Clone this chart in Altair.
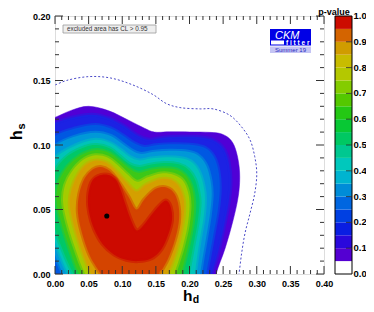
import altair as alt
import pandas as pd

FONT = "Liberation Sans"

# ---- contour levels of the p-value (h_d, h_s) ----
levels = [0.05, 0.1, 0.2, 0.3, 0.4, 0.5, 0.6, 0.7, 0.8, 0.9, 0.95]
band_colors = ["#5000d6", "#1c22e4", "#0058e2", "#0098d8", "#00c4b8", "#00c868",
               "#3cc818", "#a4cc00", "#d4a000", "#d44400", "#cc0a00"]

hd_005 = [-0.02, -0.02, 0.0, 0.025, 0.05, 0.08, 0.11, 0.133, 0.148, 0.17, 0.2, 0.23, 0.248, 0.262, 0.270, 0.2745, 0.273, 0.265, 0.253, 0.2395, 0.232]
hs_005 = [-0.02, 0.118, 0.1214, 0.127, 0.130, 0.1265, 0.119, 0.113, 0.110, 0.1102, 0.1101, 0.1098, 0.1085, 0.1035, 0.094, 0.079, 0.062, 0.042, 0.020, 0.0, -0.02]

hd_01 = [-0.02, -0.02, 0.0, 0.025, 0.055, 0.08, 0.103, 0.122, 0.140, 0.158, 0.185, 0.215, 0.236, 0.250, 0.258, 0.261, 0.258, 0.250, 0.241, 0.233, 0.227]
hs_01 = [-0.02, 0.112, 0.117, 0.1212, 0.1235, 0.1207, 0.1145, 0.1075, 0.104, 0.1055, 0.1063, 0.1060, 0.1035, 0.0975, 0.087, 0.072, 0.055, 0.034, 0.014, 0.0, -0.02]

hd_02 = [0.015, -0.01, -0.02, -0.02, 0.0, 0.03, 0.06, 0.083, 0.102, 0.118, 0.133, 0.15, 0.175, 0.205, 0.224, 0.236, 0.243, 0.245, 0.242, 0.235, 0.229, 0.225, 0.221]
hs_02 = [-0.01, 0.015, 0.04, 0.095, 0.107, 0.1128, 0.1155, 0.1128, 0.107, 0.1013, 0.0985, 0.0998, 0.1005, 0.1, 0.0975, 0.091, 0.08, 0.066, 0.049, 0.029, 0.012, 0.0, -0.02]

hd_03 = [0.03, 0.012, 0.0, -0.015, -0.02, -0.015, 0.0, 0.03, 0.06, 0.083, 0.1, 0.115, 0.128, 0.145, 0.17, 0.198, 0.214, 0.225, 0.231, 0.233, 0.23, 0.224, 0.219, 0.216, 0.212]
hs_03 = [-0.02, 0.0, 0.015, 0.035, 0.06, 0.085, 0.099, 0.1065, 0.1095, 0.107, 0.101, 0.0955, 0.093, 0.0945, 0.0955, 0.0948, 0.0915, 0.084, 0.073, 0.061, 0.045, 0.026, 0.011, 0.0, -0.02]

hd_04 = [0.045, 0.020, 0.0, -0.012, -0.013, -0.008, 0.0, 0.03, 0.06, 0.082, 0.098, 0.112, 0.126, 0.142, 0.165, 0.19, 0.205, 0.215, 0.221, 0.223, 0.221, 0.215, 0.211, 0.208, 0.204]
hs_04 = [-0.02, 0.0, 0.025, 0.045, 0.065, 0.08, 0.090, 0.0995, 0.104, 0.1015, 0.096, 0.0905, 0.088, 0.0895, 0.0905, 0.0895, 0.086, 0.0785, 0.068, 0.058, 0.044, 0.026, 0.012, 0.0, -0.02]

hd_05 = [0.055, 0.028, 0.012, 0.0, -0.006, -0.006, 0.0, 0.02, 0.045, 0.062, 0.081, 0.096, 0.11, 0.125, 0.14, 0.162, 0.184, 0.198, 0.208, 0.213, 0.215, 0.212, 0.206, 0.201, 0.198, 0.194]
hs_05 = [-0.02, 0.0, 0.018, 0.035, 0.05, 0.065, 0.080, 0.092, 0.0985, 0.100, 0.0975, 0.0915, 0.0855, 0.083, 0.0845, 0.086, 0.085, 0.081, 0.0735, 0.064, 0.055, 0.040, 0.023, 0.009, 0.0, -0.02]

hd_06 = [0.062, 0.036, 0.020, 0.008, 0.002, 0.006, 0.018, 0.038, 0.06, 0.08, 0.096, 0.11, 0.124, 0.14, 0.16, 0.18, 0.194, 0.203, 0.207, 0.205, 0.199, 0.193, 0.188, 0.184]
hs_06 = [-0.02, 0.0, 0.022, 0.042, 0.058, 0.072, 0.083, 0.092, 0.096, 0.094, 0.088, 0.082, 0.0785, 0.0805, 0.082, 0.081, 0.0765, 0.068, 0.056, 0.040, 0.024, 0.011, 0.0, -0.02]

hd_07 = [0.07, 0.045, 0.030, 0.018, 0.012, 0.015, 0.026, 0.042, 0.06, 0.078, 0.093, 0.107, 0.122, 0.138, 0.158, 0.176, 0.19, 0.198, 0.200, 0.197, 0.190, 0.183, 0.178, 0.174]
hs_07 = [-0.02, 0.0, 0.02, 0.04, 0.056, 0.069, 0.080, 0.0885, 0.092, 0.0903, 0.0845, 0.0775, 0.0715, 0.075, 0.078, 0.077, 0.0725, 0.063, 0.052, 0.037, 0.021, 0.009, 0.0, -0.02]

hd_08 = [0.078, 0.054, 0.040, 0.028, 0.022, 0.025, 0.034, 0.047, 0.062, 0.077, 0.091, 0.106, 0.121, 0.135, 0.156, 0.172, 0.184, 0.191, 0.192, 0.188, 0.181, 0.173, 0.168, 0.163]
hs_08 = [-0.02, 0.0, 0.018, 0.038, 0.054, 0.066, 0.077, 0.085, 0.088, 0.086, 0.0795, 0.071, 0.064, 0.069, 0.0735, 0.073, 0.068, 0.059, 0.049, 0.034, 0.019, 0.007, 0.0, -0.02]

hd_09 = [0.09, 0.068, 0.052, 0.040, 0.034, 0.036, 0.044, 0.056, 0.068, 0.081, 0.094, 0.109, 0.121, 0.133, 0.150, 0.166, 0.178, 0.184, 0.184, 0.178, 0.169, 0.160, 0.155, 0.15]
hs_09 = [-0.02, 0.0, 0.014, 0.032, 0.048, 0.062, 0.074, 0.081, 0.083, 0.080, 0.072, 0.060, 0.050, 0.058, 0.066, 0.067, 0.062, 0.052, 0.040, 0.026, 0.013, 0.004, 0.0, -0.02]

hd_095 = [0.124, 0.143, 0.158, 0.168, 0.174, 0.172, 0.165, 0.155, 0.143, 0.131, 0.121, 0.112, 0.104, 0.097, 0.090, 0.078, 0.064, 0.054, 0.049, 0.051, 0.058, 0.071, 0.088, 0.106]
hs_095 = [0.010, 0.012, 0.019, 0.030, 0.042, 0.052, 0.057, 0.053, 0.0455, 0.0375, 0.034, 0.043, 0.055, 0.066, 0.0735, 0.077, 0.076, 0.071, 0.059, 0.047, 0.035, 0.023, 0.015, 0.011]

contour_hd = [hd_005, hd_01, hd_02, hd_03, hd_04, hd_05, hd_06, hd_07, hd_08, hd_09, hd_095]
contour_hs = [hs_005, hs_01, hs_02, hs_03, hs_04, hs_05, hs_06, hs_07, hs_08, hs_09, hs_095]

# dashed contour
hd_dash = [-0.005, 0.0, 0.017, 0.05, 0.082, 0.116, 0.146, 0.166, 0.186, 0.216, 0.235, 0.260, 0.2775, 0.290, 0.297, 0.300, 0.297, 0.290, 0.2825, 0.2775, 0.2735, 0.272]
hs_dash = [0.1455, 0.1465, 0.150, 0.153, 0.152, 0.1465, 0.139, 0.132, 0.129, 0.128, 0.128, 0.123, 0.114, 0.104, 0.091, 0.078, 0.0625, 0.047, 0.0315, 0.016, 0.0, -0.004]

# best fit point
best_hd = [0.077]
best_hs = [0.045]

# colour bar
cbar_lo = [0.0, 0.05, 0.10, 0.15, 0.20, 0.25, 0.30, 0.35, 0.40, 0.45, 0.50, 0.55, 0.60, 0.65, 0.70, 0.75, 0.80, 0.85, 0.90, 0.95]
cbar_colors = ["#ffffff", "#5400d2", "#2a08dc", "#0a1ee2", "#0040e2", "#0066e0", "#008cd8", "#00b4d0",
               "#00c8bc", "#00c890", "#00c862", "#08c834", "#24c814", "#54c800", "#84cc00", "#b4c800",
               "#c8bc00", "#d09c00", "#d46400", "#cc0c00"]
cbar_labels = [0.0, 0.1, 0.2, 0.3, 0.4, 0.5, 0.6, 0.7, 0.8, 0.9, 1.0]

# axes ticks
x_ticks = [0.0, 0.05, 0.10, 0.15, 0.20, 0.25, 0.30, 0.35, 0.40]
y_ticks = [0.0, 0.05, 0.10, 0.15, 0.20]
x_minor = [round(i * 0.01, 2) for i in range(41) if i % 5 != 0]
y_minor = [round(i * 0.01, 2) for i in range(21) if i % 5 != 0]

W, H = 269, 258

X = alt.X("hd:Q", scale=alt.Scale(domain=[0, 0.4], nice=False, zero=False),
          axis=alt.Axis(values=x_ticks, format=".2f", title=None, ticks=False, domain=False, grid=False,
                        labelFont=FONT, labelFontSize=9, labelFontWeight="bold", labelColor="#000",
                        labelPadding=5, labelFlush=False))
Y = alt.Y("hs:Q", scale=alt.Scale(domain=[0, 0.2], nice=False, zero=False),
          axis=alt.Axis(values=y_ticks, format=".2f", title=None, ticks=False, domain=False, grid=False,
                        labelFont=FONT, labelFontSize=9, labelFontWeight="bold", labelColor="#000",
                        labelPadding=5, labelFlush=False))

layers = []
for k, (lv, col, xs, ys) in enumerate(zip(levels, band_colors, contour_hd, contour_hs)):
    df = pd.DataFrame({"hd": xs, "hs": ys, "i": list(range(len(xs)))})
    if k == 0:
        mark = alt.Chart(df).mark_line(filled=True, fill=col, stroke=col, strokeWidth=0.5,
                                       interpolate="cardinal-closed", clip=True)
    else:
        # soft edge: wide half-transparent stroke blends neighbouring bands
        mark = alt.Chart(df).mark_line(filled=True, fill=col, stroke=col, strokeWidth=4,
                                       strokeOpacity=0.5, interpolate="cardinal-closed", clip=True)
    layers.append(mark.encode(x=X, y=Y, order="i:Q"))

dash_df = pd.DataFrame({"hd": hd_dash, "hs": hs_dash, "i": list(range(len(hd_dash)))})
layers.append(
    alt.Chart(dash_df).mark_line(color="#4a4ac8", strokeWidth=1, strokeDash=[2, 2],
                                 interpolate="catmull-rom", clip=True)
    .encode(x=X, y=Y, order="i:Q")
)

best_df = pd.DataFrame({"hd": best_hd, "hs": best_hs})
layers.append(alt.Chart(best_df).mark_point(filled=True, color="#000", size=26, opacity=1).encode(x=X, y=Y))

# inner ticks (ROOT style)
xt = pd.DataFrame({"hd": x_ticks})
xm = pd.DataFrame({"hd": x_minor})
yt = pd.DataFrame({"hs": y_ticks})
ym = pd.DataFrame({"hs": y_minor})
tick_col = "#333333"
for d, ln in ((xt, 8), (xm, 4)):
    layers.append(alt.Chart(d).mark_rule(color=tick_col, strokeWidth=1).encode(x=X, y=alt.value(H), y2=alt.value(H - ln)))
    layers.append(alt.Chart(d).mark_rule(color=tick_col, strokeWidth=1).encode(x=X, y=alt.value(0), y2=alt.value(ln)))
for d, ln in ((yt, 8), (ym, 4)):
    layers.append(alt.Chart(d).mark_rule(color=tick_col, strokeWidth=1).encode(y=Y, x=alt.value(0), x2=alt.value(ln)))
    layers.append(alt.Chart(d).mark_rule(color=tick_col, strokeWidth=1).encode(y=Y, x=alt.value(W), x2=alt.value(W - ln)))

# legend box "excluded area"
note = pd.DataFrame({"t": ["excluded area has CL > 0.95"]})
layers.append(alt.Chart(note).mark_rect(fill="#eeeeee", stroke="#999999", strokeWidth=0.8)
              .encode(x=alt.value(8), x2=alt.value(101), y=alt.value(9), y2=alt.value(17)))
layers.append(alt.Chart(note).mark_text(font=FONT, fontSize=6.3, color="#333", align="left", baseline="middle")
              .encode(x=alt.value(12), y=alt.value(13.3), text="t:N"))

# CKMfitter logo
logo = pd.DataFrame({"a": ["CKM"], "b": ["f i t t e r"], "c": ["Summer 19"]})
layers.append(alt.Chart(logo).mark_rect(fill="#0000e6").encode(x=alt.value(215), x2=alt.value(256), y=alt.value(13), y2=alt.value(29.5)))
layers.append(alt.Chart(logo).mark_rect(fill="#ffffff").encode(x=alt.value(216), x2=alt.value(229), y=alt.value(24.5), y2=alt.value(28.5)))
layers.append(alt.Chart(logo).mark_rect(fill="#c4c4f4").encode(x=alt.value(215), x2=alt.value(256), y=alt.value(30.5), y2=alt.value(37)))
layers.append(alt.Chart(logo).mark_text(font=FONT, fontSize=11, fontStyle="italic", color="#fff", align="left", baseline="alphabetic")
              .encode(x=alt.value(220), y=alt.value(22.5), text="a:N"))
layers.append(alt.Chart(logo).mark_text(font=FONT, fontSize=6.5, fontWeight="bold", color="#fff", align="left", baseline="alphabetic")
              .encode(x=alt.value(231), y=alt.value(29), text="b:N"))
layers.append(alt.Chart(logo).mark_text(font=FONT, fontSize=6, color="#2a2ac0", align="center", baseline="middle")
              .encode(x=alt.value(235.5), y=alt.value(34), text="c:N"))

# axis titles with subscripts
ttl = pd.DataFrame({"h": ["h"], "d": ["d"], "s": ["s"]})
layers.append(alt.Chart(ttl).mark_text(font=FONT, fontSize=15.5, fontWeight="bold", color="#000", align="left", baseline="alphabetic")
              .encode(x=alt.value(128), y=alt.value(284.5), text="h:N"))
layers.append(alt.Chart(ttl).mark_text(font=FONT, fontSize=10.5, fontWeight="bold", color="#000", align="left", baseline="alphabetic")
              .encode(x=alt.value(137.8), y=alt.value(286.8), text="d:N"))
layers.append(alt.Chart(ttl).mark_text(font=FONT, fontSize=16, fontWeight="bold", color="#000", align="center", baseline="alphabetic", angle=270)
              .encode(x=alt.value(-33.5), y=alt.value(119), text="h:N"))
layers.append(alt.Chart(ttl).mark_text(font=FONT, fontSize=11, fontWeight="bold", color="#000", align="left", baseline="alphabetic", angle=270)
              .encode(x=alt.value(-30), y=alt.value(113.5), text="s:N"))

main = alt.layer(*layers)

# colour bar
Yc = alt.Y("v:Q", scale=alt.Scale(domain=[0, 1], nice=False, zero=False), axis=None)
cb_df = pd.DataFrame({"v": cbar_lo, "v2": [round(v + 0.05, 2) for v in cbar_lo], "c": cbar_colors})
CB0, CB1 = 280, 297
cb_rects = alt.Chart(cb_df).mark_rect(strokeWidth=0).encode(
    y=Yc, y2="v2:Q", x=alt.value(CB0), x2=alt.value(CB1), color=alt.Color("c:N", scale=None))
cb_frame = alt.Chart(pd.DataFrame({"v": [0.0], "v2": [1.0]})).mark_rect(fillOpacity=0, stroke="#000", strokeWidth=1).encode(
    y=Yc, y2="v2:Q", x=alt.value(CB0), x2=alt.value(CB1))
cb_tick_df = pd.DataFrame({"v": cbar_labels[1:-1]})
cb_ticks = alt.Chart(cb_tick_df).mark_rule(color="#222", strokeWidth=1, opacity=0.75).encode(
    y=Yc, x=alt.value(CB1 - 6), x2=alt.value(CB1))
cb_lab_df = pd.DataFrame({"v": cbar_labels})
cb_labels = alt.Chart(cb_lab_df).mark_text(font=FONT, fontSize=9.5, fontWeight="bold", color="#000",
                                           align="left", baseline="middle").encode(
    y=Yc, x=alt.value(CB1 + 1.5), text=alt.Text("v:Q", format=".1f"))
cb_title = alt.Chart(pd.DataFrame({"t": ["p-value"]})).mark_text(
    font=FONT, fontSize=9, fontWeight="bold", color="#000", align="center", baseline="alphabetic").encode(
    x=alt.value(279), y=alt.value(-0.8), text="t:N")

cbar = alt.layer(cb_rects, cb_frame, cb_ticks, cb_labels, cb_title)

chart = (
    alt.layer(main, cbar)
    .resolve_scale(y="independent")
    .properties(width=W, height=H,
                autosize=alt.AutoSizeParams(type="none"),
                padding={"left": 47, "top": 8, "right": 42, "bottom": 30})
    .configure_view(stroke="#333333", strokeWidth=1)
    .configure(background="#ffffff")
)

chart.save("out.html", embed_options={"renderer": "svg", "actions": False})
